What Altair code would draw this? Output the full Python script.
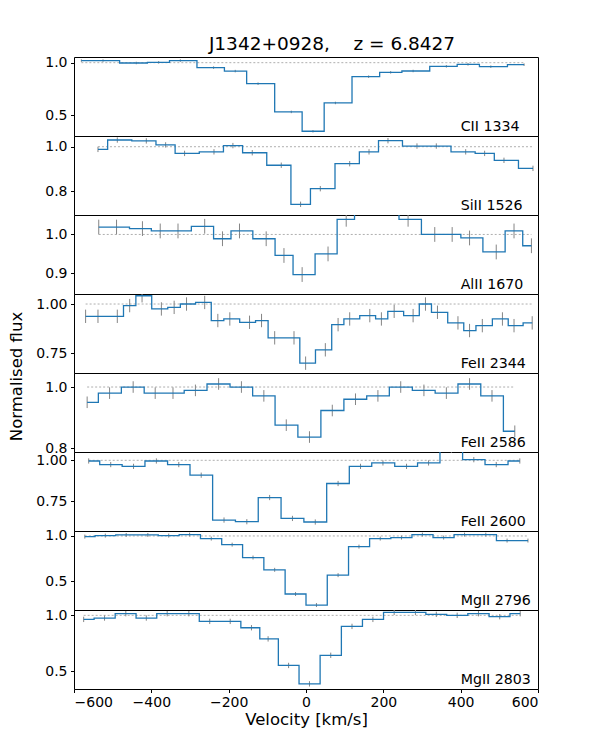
import altair as alt
import pandas as pd

LINES = ["CII 1334", "SiII 1526", "AlII 1670", "FeII 2344",
         "FeII 2586", "FeII 2600", "MgII 2796", "MgII 2803"]
TITLE = "J1342+0928,\u00a0\u00a0\u00a0\u00a0z = 6.8427"

CII_V = [-581, -525, -439, -381, -325, -239, -183, -124, -38, 18, 76, 162, 219, 277, 363, 419, 478, 564]
CII_F = [1.02, 1.02, 0.997, 1.003, 1.02, 0.953, 0.92, 0.80, 0.532, 0.348, 0.617, 0.867, 0.908, 0.921, 0.965, 0.984, 0.962, 0.981]

SII_V = [-538, -488, -413, -363, -314, -238, -189, -139, -64, -14, 37, 113, 163, 212, 287, 337, 413, 462, 512, 587]
SII_F = [0.988, 1.030, 1.026, 1.008, 0.970, 0.977, 1.005, 0.973, 0.917, 0.742, 0.812, 0.924, 0.977, 1.027, 1.003, 1.003, 0.977, 0.970, 0.939, 0.903]

AL_V = [-536, -490, -423, -377, -331, -262, -216, -172, -103, -57, -10, 57, 104, 147, 217, 264, 333, 378, 423, 492, 538, 583]
AL_F = [1.019, 1.019, 1.015, 1.009, 1.009, 1.021, 0.989, 1.009, 0.989, 0.946, 0.897, 0.950, 1.039, 1.075, 1.070, 1.039, 1.0, 1.0, 0.991, 0.955, 1.009, 0.971]

FE44_V = [-570, -538, -488, -456, -424, -374, -341, -309, -262, -228, -197, -146, -115, -81, -31, -1, 50, 83, 113, 165, 195, 228, 277, 309, 340, 393, 423, 456, 508, 538, 585]
FE44_F = [0.9375, 0.9375, 0.9375, 0.992, 1.042, 0.975, 0.983, 1.0, 1.008, 0.916, 0.924, 0.907, 0.916, 0.828, 0.828, 0.699, 0.767, 0.895, 0.924, 0.941, 0.924, 0.963, 0.941, 1.0, 0.958, 0.904, 0.865, 0.890, 0.924, 0.890, 0.904]

FE86_V = [-566, -508, -447, -390, -344, -286, -226, -167, -109, -51, 9, 68, 128, 186, 245, 305, 363, 423, 481, 540]
FE86_F = [0.950, 0.980, 1.0, 0.980, 0.980, 0.989, 1.010, 1.0, 0.971, 0.875, 0.836, 0.923, 0.960, 0.971, 1.0, 0.989, 0.980, 1.010, 0.971, 0.855]

FE00_V = [-562, -505, -446, -387, -329, -271, -212, -153, -94, -35, 24, 83, 141, 199, 260, 317, 376, 434, 492, 553]
FE00_F = [0.996, 0.974, 0.963, 0.996, 0.974, 0.909, 0.634, 0.624, 0.772, 0.644, 0.622, 0.858, 0.963, 0.984, 0.963, 0.984, 1.062, 1.004, 0.974, 0.996]

MG96_V = [-572, -519, -465, -409, -355, -301, -245, -191, -137, -81, -27, 27, 83, 137, 192, 247, 301, 356, 410, 465, 520, 574]
MG96_F = [0.993, 1.004, 1.011, 1.011, 1.004, 1.015, 0.971, 0.904, 0.761, 0.625, 0.357, 0.235, 0.566, 0.882, 0.971, 0.982, 1.015, 0.982, 1.015, 1.015, 0.949, 0.949]

MG03_V = [-575, -521, -466, -413, -359, -303, -249, -196, -141, -98, -45, 9, 64, 119, 173, 228, 283, 337, 391, 446, 501, 554]
MG03_F = [0.964, 0.976, 1.015, 0.976, 1.015, 1.015, 0.946, 0.946, 0.889, 0.789, 0.551, 0.386, 0.642, 0.901, 0.964, 1.027, 1.027, 1.009, 1.0, 1.015, 0.988, 1.015]

VELS = [CII_V, SII_V, AL_V, FE44_V, FE86_V, FE00_V, MG96_V, MG03_V]
FLUX = [CII_F, SII_F, AL_F, FE44_F, FE86_F, FE00_F, MG96_F, MG03_F]
ERRS = [0.012, 0.012, 0.019, 0.034, 0.019, 0.016, 0.022, 0.024]
YLIM = [(0.303, 1.054), (0.694, 1.048), (0.847, 1.05), (0.649, 1.051),
        (0.787, 1.046), (0.567, 1.051), (0.18, 1.055), (0.34, 1.048)]
YTICKS = [[0.5, 1.0], [0.8, 1.0], [0.9, 1.0], [0.75, 1.0],
          [0.8, 1.0], [0.75, 1.0], [0.5, 1.0], [0.5, 1.0]]
YFMT = [".1f", ".1f", ".1f", ".2f", ".1f", ".2f", ".1f", ".1f"]
XTICKS = [-600, -400, -200, 0, 200, 400, 600]

W, H = 464, 79
BLUE = "#1f77b4"
FS_TICK = 14
FS_AXT = 16.5
FS_LAB = 14.2
FS_TITLE = 18.5

panels = []
for i, name in enumerate(LINES):
    df = pd.DataFrame({"v": VELS[i], "f": FLUX[i]})
    df["lo"] = df["f"] - ERRS[i]
    df["hi"] = df["f"] + ERRS[i]
    df["one"] = 1.0
    last = i == len(LINES) - 1
    if last:
        xaxis = alt.Axis(values=XTICKS, format="d", title="Velocity [km/s]",
                         titleFontSize=FS_AXT, titleFontWeight="normal", titlePadding=2,
                         labelFontSize=FS_TICK, labelPadding=3, tickSize=3.5,
                         tickColor="black", labelColor="black", titleColor="black",
                         domain=False, grid=False)
    else:
        xaxis = None
    xs = alt.Scale(domain=[-600, 600], nice=False)
    yk = dict(values=YTICKS[i], format=YFMT[i], grid=False, domain=False,
              tickSize=3.5, tickColor="black", labelColor="black",
              labelFontSize=FS_TICK, labelPadding=3.5)
    if i == 3:
        yk.update(title="Normalised flux", titleFontSize=FS_AXT, titleFontWeight="normal",
                  titleColor="black", titleX=-49.5, titleY=H + 3, titleAngle=-90,
                  titleAlign="center", titleBaseline="bottom")
    else:
        yk.update(title=None)
    ys = alt.Scale(domain=list(YLIM[i]), nice=False, zero=False)

    def Y(field):
        return alt.Y(field, type="quantitative", scale=ys, axis=alt.Axis(**yk))

    X = alt.X("v:Q", scale=xs, axis=xaxis)
    base = alt.Chart(df)
    dotted = base.mark_line(color="#9a9a9a", strokeDash=[2, 2], strokeWidth=0.8).encode(
        x=X, y=Y("one"))
    err = base.mark_rule(color="#858585", strokeWidth=1, clip=True).encode(
        x=X, y=Y("lo"), y2="hi")
    line = base.mark_line(interpolate="step", color=BLUE, strokeWidth=1.3, clip=True).encode(
        x=X, y=Y("f"))
    lab = alt.Chart(pd.DataFrame({"t": [name]})).mark_text(
        align="left", baseline="alphabetic", fontSize=FS_LAB, color="black").encode(
        x=alt.datum(400), y=alt.value(H - 5), text="t:N")
    layers = [dotted, err, line, lab]
    if i == 0:
        ttl = alt.Chart(pd.DataFrame({"t": [TITLE]})).mark_text(
            align="center", baseline="alphabetic", fontSize=FS_TITLE, color="black").encode(
            x=alt.value(258), y=alt.value(-7.5), text="t:N")
        layers.append(ttl)
    panels.append(alt.layer(*layers).properties(width=W, height=H))

chart = alt.vconcat(*panels, spacing=0, bounds="flush").properties(
    padding={"top": 26, "left": 0, "right": 5, "bottom": 5}
).configure(font="DejaVu Sans").configure_view(stroke="black", strokeWidth=1)

chart.save("out.html", embed_options={"renderer": "svg", "actions": False})
